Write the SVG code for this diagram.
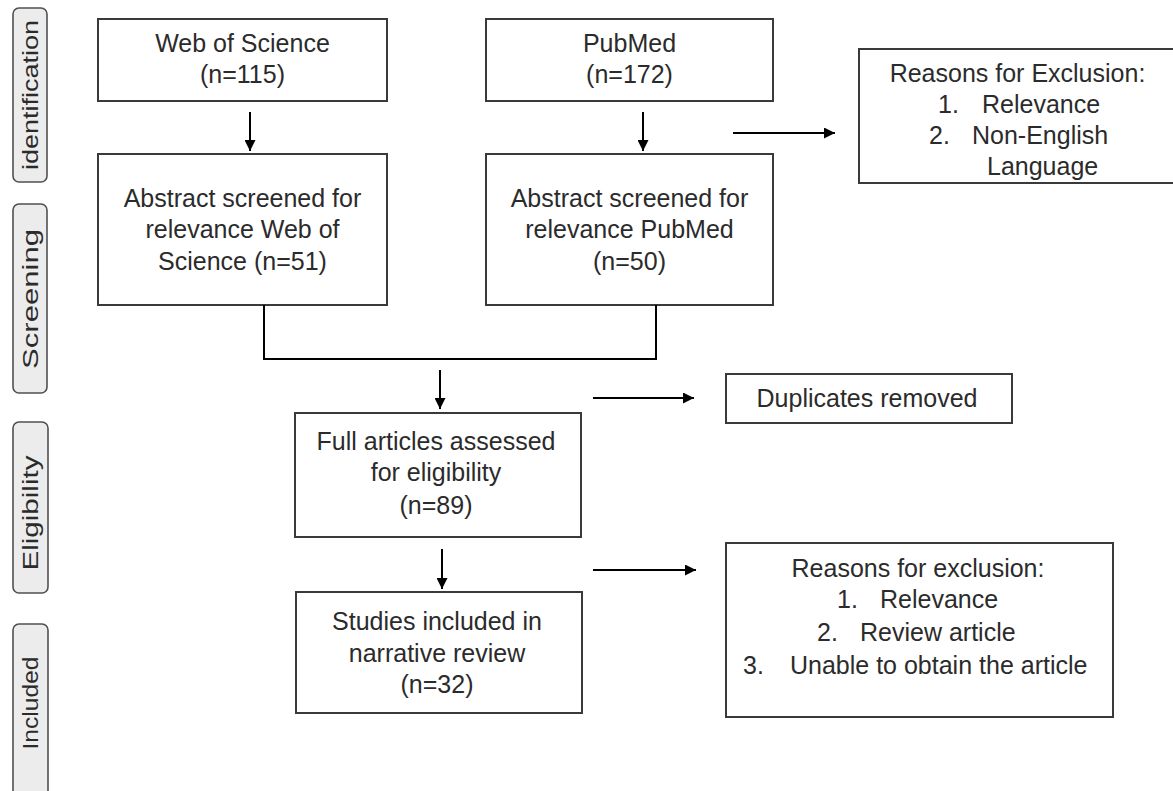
<svg xmlns="http://www.w3.org/2000/svg" width="1173" height="791" viewBox="0 0 1173 791">
<defs>
<marker id="ah" viewBox="0 0 10 10" refX="10" refY="5" markerWidth="11" markerHeight="11" markerUnits="userSpaceOnUse" orient="auto">
<path d="M0,0 L10,5 L0,10 z" fill="#000"/>
</marker>
<style>
.box{fill:#fff;stroke:#3a3a3a;stroke-width:2}
.lab{fill:#ececec;stroke:#505050;stroke-width:1.6}
.t{font-family:"Liberation Sans",Arial,sans-serif;font-size:25px;fill:#2b2b2b}
.c{text-anchor:middle}
.lt{font-family:"Liberation Sans",Arial,sans-serif;font-size:22px;fill:#2b2b2b;text-anchor:middle}
.ln{fill:none;stroke:#000;stroke-width:2}
.ar{fill:none;stroke:#000;stroke-width:2;marker-end:url(#ah)}
</style>
</defs>
<rect width="1173" height="791" fill="#fff"/>

<g id="label-identification">
<rect class="lab" x="13" y="8" width="34" height="174" rx="6"/>
<text class="lt" transform="translate(38,95) rotate(-90)" textLength="150" lengthAdjust="spacingAndGlyphs">identification</text>
</g>
<g id="label-screening">
<rect class="lab" x="13" y="204" width="34" height="189" rx="6"/>
<text class="lt" transform="translate(38,299) rotate(-90)" textLength="140" lengthAdjust="spacingAndGlyphs">Screening</text>
</g>
<g id="label-eligibility">
<rect class="lab" x="13" y="422" width="35" height="171" rx="6"/>
<text class="lt" transform="translate(38,513) rotate(-90)" textLength="115" lengthAdjust="spacingAndGlyphs">Eligibility</text>
</g>
<g id="label-included">
<rect class="lab" x="13" y="624" width="35" height="190" rx="6"/>
<text class="lt" transform="translate(38,703) rotate(-90)" textLength="93" lengthAdjust="spacingAndGlyphs">Included</text>
</g>

<g id="wos">
<rect class="box" x="98" y="19" width="289" height="82"/>
<text class="t c" x="242.5" y="52">Web of Science</text>
<text class="t c" x="242.5" y="83">(n=115)</text>
</g>
<g id="pubmed">
<rect class="box" x="486" y="19" width="287" height="82"/>
<text class="t c" x="629.5" y="52">PubMed</text>
<text class="t c" x="629.5" y="83">(n=172)</text>
</g>
<g id="reasons1">
<rect class="box" x="859" y="49" width="330" height="134"/>
<text class="t c" x="1017.5" y="82">Reasons for Exclusion:</text>
<text class="t" x="938" y="113">1.</text>
<text class="t" x="982" y="113">Relevance</text>
<text class="t" x="929" y="144">2.</text>
<text class="t" x="972" y="144">Non-English</text>
<text class="t" x="987" y="175">Language</text>
</g>
<g id="wos-screen">
<rect class="box" x="98" y="154" width="289" height="151"/>
<text class="t c" x="242.5" y="207">Abstract screened for</text>
<text class="t c" x="242.5" y="238">relevance Web of</text>
<text class="t c" x="242.5" y="270">Science (n=51)</text>
</g>
<g id="pubmed-screen">
<rect class="box" x="486" y="154" width="287" height="151"/>
<text class="t c" x="629.5" y="207">Abstract screened for</text>
<text class="t c" x="629.5" y="238">relevance PubMed</text>
<text class="t c" x="629.5" y="270">(n=50)</text>
</g>
<g id="duplicates">
<rect class="box" x="726" y="374" width="286" height="49"/>
<text class="t c" x="867" y="407">Duplicates removed</text>
</g>
<g id="full-articles">
<rect class="box" x="295" y="413" width="286" height="124"/>
<text class="t c" x="436" y="450">Full articles assessed</text>
<text class="t c" x="436" y="481">for eligibility</text>
<text class="t c" x="436" y="514">(n=89)</text>
</g>
<g id="studies">
<rect class="box" x="296" y="592" width="286" height="121"/>
<text class="t c" x="437" y="630">Studies included in</text>
<text class="t c" x="437" y="662">narrative review</text>
<text class="t c" x="437" y="693">(n=32)</text>
</g>
<g id="reasons2">
<rect class="box" x="726" y="543" width="387" height="174"/>
<text class="t c" x="918" y="577">Reasons for exclusion:</text>
<text class="t" x="837" y="608">1.</text>
<text class="t" x="880" y="608">Relevance</text>
<text class="t" x="817" y="641">2.</text>
<text class="t" x="860" y="641">Review article</text>
<text class="t" x="743" y="674">3.</text>
<text class="t" x="790" y="674">Unable to obtain the article</text>
</g>

<g id="connectors">
<line class="ar" x1="250" y1="112" x2="250" y2="151"/>
<line class="ar" x1="643" y1="112" x2="643" y2="151"/>
<line class="ar" x1="733" y1="133" x2="835" y2="133"/>
<polyline class="ln" points="264,305 264,359 656,359 656,305"/>
<line class="ar" x1="440" y1="370" x2="440" y2="409"/>
<line class="ar" x1="593" y1="398" x2="694" y2="398"/>
<line class="ar" x1="442" y1="549" x2="442" y2="589"/>
<line class="ar" x1="593" y1="570" x2="696" y2="570"/>
</g>
</svg>
